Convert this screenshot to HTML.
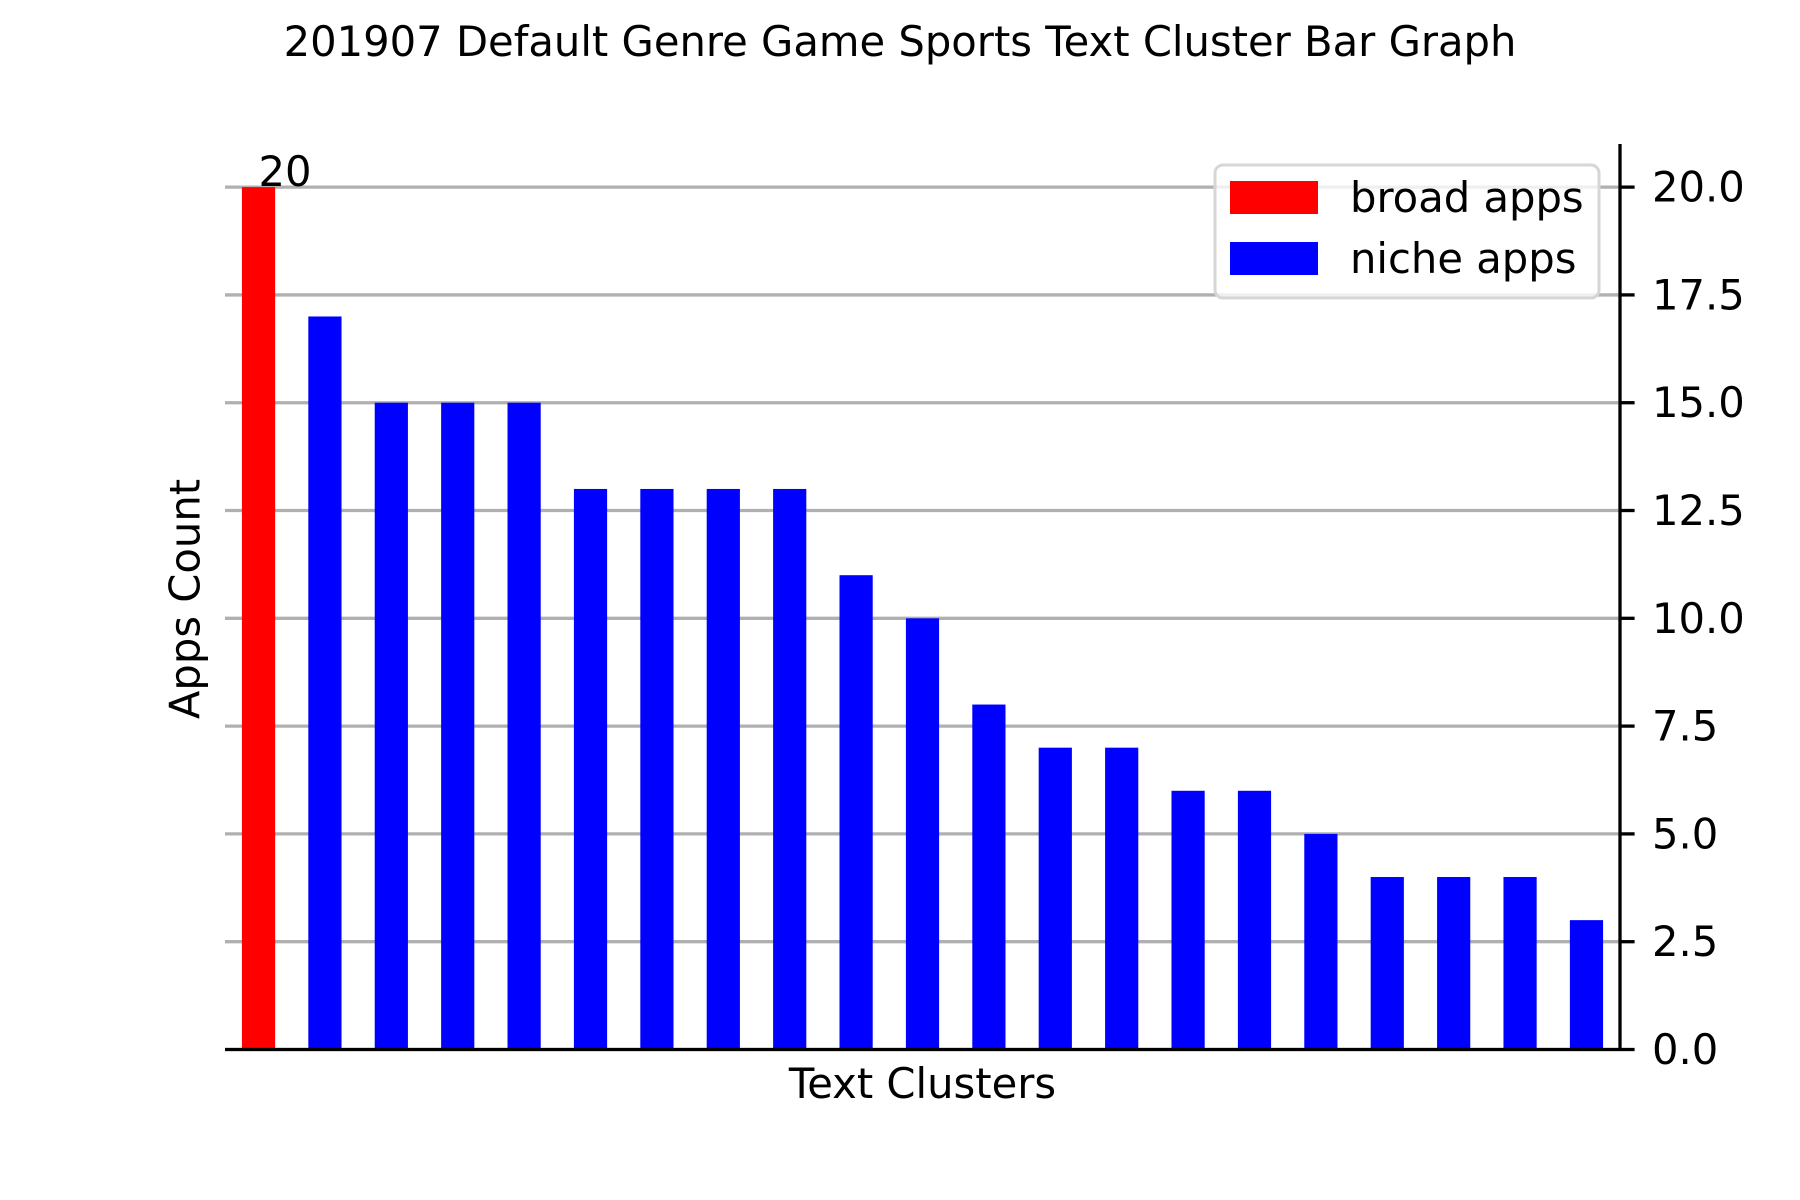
<!DOCTYPE html>
<html><head><meta charset="utf-8"><style>html,body{margin:0;padding:0;background:#fff}svg{display:block}text{font-family:"DejaVu Sans","Liberation Sans",sans-serif}</style></head>
<body>
<svg id="chart" width="1800" height="1200" viewBox="0 0 1800 1200">
<text x="900" y="56" font-size="41.7" text-anchor="middle">201907 Default Genre Game Sports Text Cluster Bar Graph</text>
<g id="grid"></g><g id="bars"></g><g id="ticks"></g>
<line x1="225" y1="1049.5" x2="1620" y2="1049.5" stroke="#000" stroke-width="3.3"/>
<line x1="1620" y1="144" x2="1620" y2="1049.5" stroke="#000" stroke-width="3.3"/>
<text x="922.5" y="1098" font-size="41.7" text-anchor="middle">Text Clusters</text>
<text transform="translate(185,599) rotate(-90)" font-size="41.7" text-anchor="middle" dominant-baseline="central">Apps Count</text>
<g>
<rect x="1215" y="165" width="384" height="133" rx="8" fill="#fff" fill-opacity="0.8" stroke="#d6d6d6" stroke-width="3"/>
<rect x="1230" y="181" width="88" height="33" fill="#ff0000"/>
<text x="1350" y="212" font-size="41.7">broad apps</text>
<rect x="1230" y="242" width="88" height="33" fill="#0000ff"/>
<text x="1350" y="273" font-size="41.7">niche apps</text>
</g>
</svg>
<script>
const categories = ["c1","c2","c3","c4","c5","c6","c7","c8","c9","c10","c11","c12","c13","c14","c15","c16","c17","c18","c19","c20","c21"];
const counts = [20,17,15,15,15,13,13,13,13,11,10,8,7,7,6,6,5,4,4,4,3];
const broadFlags = [1,0,0,0,0,0,0,0,0,0,0,0,0,0,0,0,0,0,0,0,0];
const yTicks = [0,2.5,5,7.5,10,12.5,15,17.5,20];
const yTickLabels = ["0.0","2.5","5.0","7.5","10.0","12.5","15.0","17.5","20.0"];
const annotationValue = "20";

const NS = "http://www.w3.org/2000/svg";
const X0 = 225, X1 = 1620, Y0 = 1049.5, Y1 = 144, YMAX = 21;
const n = categories.length;
const xMin = -0.5 - 0.005, xMax = n - 0.5 + 0.005;
function xs(i){ return X0 + (i - xMin) / (xMax - xMin) * (X1 - X0); }
function ys(v){ return Y0 - v / YMAX * (Y0 - Y1); }
const pitch = xs(1) - xs(0);
function mk(tag, attrs, parent){ const e = document.createElementNS(NS, tag); for (const k in attrs) e.setAttribute(k, attrs[k]); parent.appendChild(e); return e; }
const grid = document.getElementById('grid'), bars = document.getElementById('bars'), ticks = document.getElementById('ticks');
yTicks.forEach((t, i) => {
  const y = ys(t);
  const g = mk('line', {x1: X0, x2: X1, y1: y, y2: y, stroke: '#b0b0b0', 'stroke-width': 3.3}, grid);
  
  
  const tk = mk('line', {x1: X1, x2: X1 + 14.6, y1: y, y2: y, stroke: '#000', 'stroke-width': 3.3}, ticks);
  
  
  const lb = mk('text', {x: 1652, y: y, 'font-size': 41.7, 'dominant-baseline': 'central'}, ticks);
  lb.textContent = yTickLabels[i];
  
  
});
counts.forEach((v, i) => {
  const w = pitch * 0.5;
  const cx = xs(i);
  const r = mk('rect', {x: cx - w / 2, y: ys(v), width: w, height: Y0 - ys(v), fill: broadFlags[i] ? '#ff0000' : '#0000ff'}, bars);
  
  
});
const ai = broadFlags.indexOf(1);
const at = mk('text', {x: xs(ai), y: ys(counts[ai]) - 1, 'font-size': 41.7}, ticks);
at.textContent = annotationValue;


</script>
</body></html>
